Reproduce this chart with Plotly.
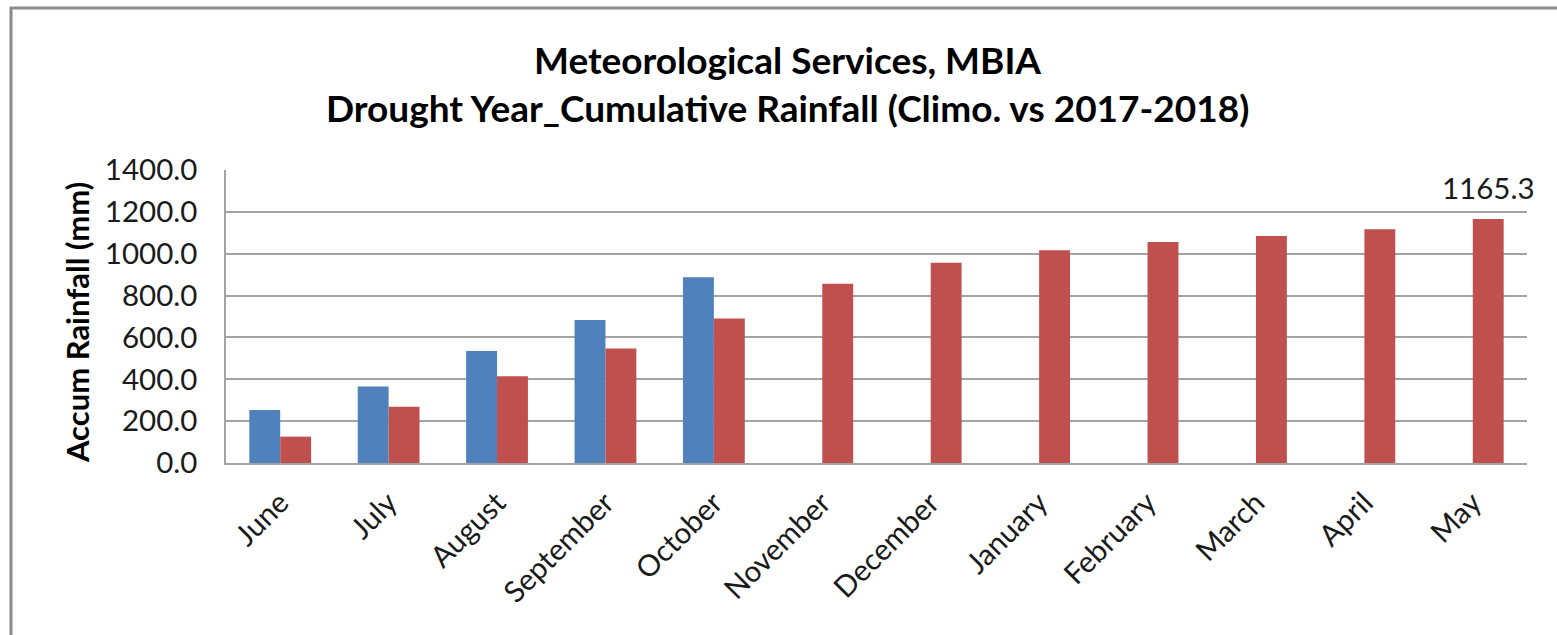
import plotly.graph_objects as go

months = ["June", "July", "August", "September", "October", "November",
          "December", "January", "February", "March", "April", "May"]
climo = [253, 365, 535, 683, 888, None, None, None, None, None, None, None]
year_2017_2018 = [126, 269, 415, 547, 691, 856, 957, 1016, 1056, 1085, 1117, 1165.3]
y_ticks = [0, 200, 400, 600, 800, 1000, 1200, 1400]

FONT = "Lato"
W, H = 1557, 635
L, R, T, B = 226, 30, 170, 172
pw = W - L - R
ph = H - T - B

def px_x(px):
    return (px - L) / pw

def px_y(py):
    return (H - B - py) / ph

fig = go.Figure()
fig.add_trace(go.Bar(x=months, y=climo, name="Climo.",
                     marker=dict(color="#4F81BD", line=dict(width=0))))
fig.add_trace(go.Bar(x=months, y=year_2017_2018, name="2017-2018",
                     marker=dict(color="#C0504D", line=dict(width=0))))

fig.update_layout(
    width=W, height=H,
    margin=dict(l=L, r=R, t=T, b=B, autoexpand=False),
    paper_bgcolor="white", plot_bgcolor="white",
    barmode="group", bargap=0.43, bargroupgap=0,
    showlegend=False,
    font=dict(family=FONT, color="#000000", size=29),
)
fig.update_yaxes(
    range=[0, 1400], tickvals=y_ticks, tickformat=".1f",
    showgrid=True, gridcolor="#a3a3a3", gridwidth=1.5,
    showline=True, linecolor="#a3a3a3", linewidth=1.5,
    ticks="", ticklabelstandoff=21, automargin=False,
    tickfont=dict(family=FONT, size=29.5, color="#1a1a1a"),
    zeroline=False,
)
fig.update_xaxes(
    showline=True, linecolor="#a3a3a3", linewidth=1.5,
    ticks="", tickangle=-45, ticklabelstandoff=9, automargin=False,
    range=[-0.5, len(months) - 0.5],
    tickfont=dict(family=FONT, size=29.5, color="#1a1a1a"),
)

# last value label above the May red bar
fig.add_annotation(x=months[-1], y=year_2017_2018[-1], text=f"{year_2017_2018[-1]:.1f}",
                   showarrow=False, xshift=15.5, yshift=32, yanchor="middle",
                   font=dict(family=FONT, size=29.5, color="#1a1a1a"))

# title lines
fig.add_annotation(xref="paper", yref="paper", x=px_x(787), y=px_y(60),
                   text="<b>Meteorological Services, MBIA</b>", showarrow=False,
                   xanchor="center", yanchor="middle",
                   font=dict(family=FONT, size=37, color="#000000"))
fig.add_annotation(xref="paper", yref="paper", x=px_x(787), y=px_y(108),
                   text="<b>Drought Year_Cumulative Rainfall (Climo. vs 2017-2018)</b>",
                   showarrow=False, xanchor="center", yanchor="middle",
                   font=dict(family=FONT, size=37, color="#000000"))

# y-axis title
fig.add_annotation(xref="paper", yref="paper", x=px_x(77), y=px_y(323),
                   text="<b>Accum Rainfall (mm)</b>", textangle=-90, showarrow=False,
                   xanchor="center", yanchor="middle",
                   font=dict(family=FONT, size=31, color="#000000"))

# outer chart border (extends past right/bottom edges)
fig.add_shape(type="rect", xref="paper", yref="paper",
              x0=px_x(11), y0=px_y(H + 10), x1=px_x(W + 10), y1=px_y(8),
              line=dict(color="#8a8a8a", width=3), fillcolor="rgba(0,0,0,0)", layer="above")

fig.write_html("out.html")
